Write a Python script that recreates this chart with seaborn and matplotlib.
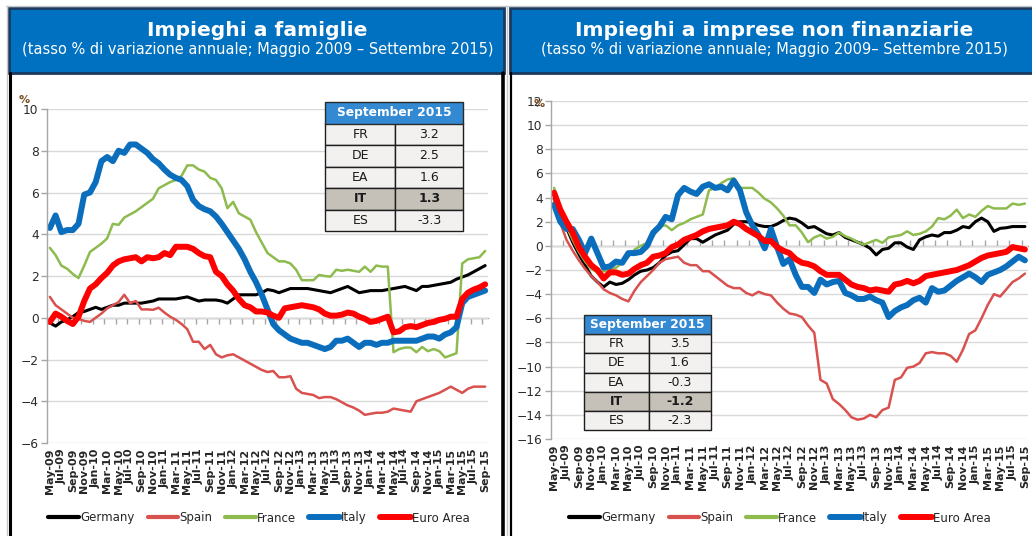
import numpy as np
import pandas as pd
import matplotlib
matplotlib.use("Agg")
import matplotlib.pyplot as plt
from matplotlib.patches import Rectangle
from matplotlib.lines import Line2D
import seaborn as sns

sns.set_style("white")
plt.rcParams['font.family'] = ['DejaVu Sans']

# ---------------- data ----------------
months = pd.date_range("2009-05-01", "2015-09-01", freq="MS").strftime("%b-%y").tolist()
series_names = ["Germany", "Spain", "France", "Italy", "Euro Area"]

# Impieghi a famiglie
fam_germany = [-0.25, -0.4, -0.2, -0.1, 0.05, 0.25, 0.3, 0.4, 0.5, 0.4,
               0.5, 0.6, 0.6, 0.7, 0.7, 0.7, 0.7, 0.75, 0.8, 0.9,
               0.9, 0.9, 0.9, 0.95, 1.0, 0.9, 0.8, 0.85, 0.85, 0.85,
               0.8, 0.7, 0.9, 1.1, 1.1, 1.1, 1.1, 1.2, 1.35, 1.3,
               1.2, 1.3, 1.4, 1.4, 1.4, 1.4, 1.35, 1.3, 1.25, 1.2,
               1.3, 1.4, 1.5, 1.35, 1.2, 1.25, 1.3, 1.3, 1.3, 1.35,
               1.4, 1.45, 1.5, 1.4, 1.3, 1.5, 1.5, 1.55, 1.6, 1.65,
               1.7, 1.85, 1.95, 2.05, 2.2, 2.35, 2.5]
fam_spain = [1.0, 0.6, 0.4, 0.2, 0.0, -0.05, -0.15, -0.2, 0.0, 0.2,
             0.45, 0.6, 0.75, 1.1, 0.7, 0.8, 0.4, 0.4, 0.38, 0.48,
             0.25, 0.05, -0.1, -0.3, -0.55, -1.15, -1.15, -1.5, -1.3, -1.75,
             -1.9, -1.8, -1.75, -1.9, -2.05, -2.2, -2.35, -2.5, -2.6, -2.55,
             -2.85, -2.85, -2.8, -3.4, -3.6, -3.65, -3.7, -3.85, -3.8, -3.8,
             -3.9, -4.05, -4.2, -4.3, -4.45, -4.65, -4.6, -4.55, -4.55, -4.5,
             -4.35, -4.4, -4.45, -4.5, -4.0, -3.9, -3.8, -3.7, -3.6, -3.45,
             -3.3, -3.45, -3.6, -3.4, -3.3, -3.3, -3.3]
fam_france = [3.35, 3.0, 2.5, 2.35, 2.1, 1.9, 2.5, 3.15, 3.35, 3.55,
              3.8, 4.5, 4.45, 4.8, 4.95, 5.1, 5.3, 5.5, 5.7, 6.2,
              6.35, 6.5, 6.6, 6.8, 7.3, 7.3, 7.1, 7.0, 6.7, 6.6,
              6.2, 5.25, 5.55, 5.0, 4.85, 4.7, 4.1, 3.6, 3.1, 2.9,
              2.7, 2.7, 2.6, 2.3, 1.8, 1.8, 1.8, 2.05, 2.0, 1.97,
              2.3, 2.25, 2.3, 2.25, 2.2, 2.45, 2.2, 2.5, 2.45, 2.45,
              -1.65, -1.5, -1.43, -1.43, -1.65, -1.4, -1.6, -1.5, -1.6, -1.9,
              -1.8, -1.7, 2.6, 2.8, 2.85, 2.9, 3.2]
fam_italy = [4.3, 4.9, 4.1, 4.2, 4.2, 4.5, 5.9, 6.0, 6.5, 7.5,
             7.7, 7.5, 8.0, 7.9, 8.3, 8.3, 8.1, 7.9, 7.6, 7.4,
             7.1, 6.85, 6.7, 6.6, 6.3, 5.65, 5.35, 5.2, 5.1, 4.85,
             4.5, 4.1, 3.7, 3.3, 2.8, 2.2, 1.7, 1.1, 0.4, -0.3,
             -0.6, -0.8, -1.0, -1.1, -1.2, -1.2, -1.3, -1.4, -1.5, -1.4,
             -1.1, -1.1, -1.0, -1.2, -1.4, -1.2, -1.2, -1.3, -1.2, -1.2,
             -1.1, -1.1, -1.1, -1.1, -1.1, -1.0, -0.9, -0.9, -1.0, -0.8,
             -0.7, -0.45, 0.7, 1.0, 1.1, 1.2, 1.3]
fam_euro = [-0.2, 0.2, 0.05, -0.15, -0.3, 0.05, 0.8, 1.4, 1.6, 1.9,
            2.15, 2.5, 2.7, 2.8, 2.85, 2.9, 2.7, 2.9, 2.85, 2.9,
            3.1, 3.0, 3.4, 3.4, 3.4, 3.3, 3.1, 2.95, 2.9, 2.2,
            2.0, 1.6, 1.3, 0.9, 0.6, 0.5, 0.3, 0.3, 0.25, 0.1,
            0.0, 0.45, 0.5, 0.55, 0.6, 0.55, 0.5, 0.4, 0.2, 0.1,
            0.1, 0.15, 0.25, 0.2, 0.05, -0.05, -0.2, -0.15, -0.05, 0.05,
            -0.7, -0.65, -0.45, -0.4, -0.45, -0.35, -0.25, -0.2, -0.1, -0.05,
            0.05, 0.05, 0.9, 1.2, 1.35, 1.45, 1.6]

# Impieghi a imprese non finanziarie
imp_germany = [3.9, 2.6, 1.5, 0.3, -0.7, -1.6, -2.5, -3.0, -3.4, -3.0,
               -3.2, -3.1, -2.8, -2.4, -2.1, -2.0, -1.8, -1.4, -0.8, -0.5,
               -0.4, 0.1, 0.6, 0.6, 0.3, 0.6, 0.9, 1.1, 1.3, 1.8,
               2.0, 2.0, 1.9, 1.7, 1.6, 1.6, 1.8, 2.1, 2.3, 2.2,
               1.9, 1.5, 1.6, 1.3, 1.0, 0.9, 1.1, 0.7, 0.5, 0.3,
               0.1, -0.2, -0.75, -0.3, -0.2, 0.25, 0.25, -0.1, -0.3, 0.5,
               0.75, 0.9, 0.8, 1.1, 1.1, 1.3, 1.6, 1.5, 2.0, 2.3,
               2.0, 1.2, 1.45, 1.5, 1.6, 1.6, 1.6]
imp_spain = [3.8, 1.9, 0.5, -0.4, -1.2, -1.9, -2.5, -3.0, -3.6, -3.9,
             -4.1, -4.4, -4.6, -3.7, -3.0, -2.5, -2.0, -1.4, -1.1, -1.0,
             -0.9, -1.4, -1.6, -1.6, -2.1, -2.1, -2.5, -2.9, -3.3, -3.5,
             -3.5, -3.9, -4.1, -3.8, -4.0, -4.1, -4.7, -5.2, -5.6, -5.7,
             -5.9, -6.6, -7.2, -11.1, -11.4, -12.7, -13.1, -13.6, -14.2, -14.4,
             -14.3, -14.0, -14.2, -13.6, -13.4, -11.1, -10.9, -10.1, -10.0, -9.7,
             -8.9, -8.8, -8.9, -8.9, -9.1, -9.6, -8.6, -7.3, -7.0, -6.0,
             -4.9, -4.0, -4.2, -3.6, -3.0, -2.7, -2.3]
imp_france = [4.8, 3.2, 1.6, 0.5, -0.5, -1.3, -1.9, -2.2, -2.1, -2.0,
              -1.8, -1.4, -0.9, -0.3, 0.0, 0.25, 0.8, 1.6, 1.7, 1.3,
              1.7, 1.9, 2.2, 2.4, 2.6, 4.6, 4.8, 5.2, 5.5, 5.6,
              4.8, 4.8, 4.8, 4.4, 3.9, 3.6, 3.1, 2.5, 1.7, 1.7,
              1.1, 0.3, 0.7, 0.9, 0.6, 0.75, 1.1, 0.8, 0.6, 0.3,
              0.1, 0.3, 0.5, 0.25, 0.7, 0.8, 0.9, 1.2, 0.9, 1.0,
              1.2, 1.6, 2.3, 2.2, 2.5, 3.0, 2.3, 2.6, 2.4, 2.9,
              3.3, 3.1, 3.1, 3.1, 3.5, 3.4, 3.5]
imp_italy = [3.4, 2.0, 1.4, 1.4, 0.5, -0.6, 0.6, -0.6, -1.8, -1.7,
             -1.3, -1.4, -0.6, -0.6, -0.5, 0.0, 1.1, 1.6, 2.4, 2.2,
             4.2, 4.8, 4.5, 4.3, 4.9, 5.1, 4.8, 4.9, 4.6, 5.4,
             4.6, 2.8, 1.7, 0.9, -0.2, 1.4, -0.1, -1.5, -1.1, -2.4,
             -3.4, -3.4, -3.9, -2.8, -3.2, -3.0, -2.9, -3.9, -4.1, -4.4,
             -4.4, -4.2, -4.5, -4.7, -5.9, -5.4, -5.1, -4.9, -4.5, -4.3,
             -4.7, -3.5, -3.8, -3.7, -3.3, -2.9, -2.6, -2.3, -2.6, -3.0,
             -2.4, -2.2, -2.0, -1.7, -1.3, -0.9, -1.2]
imp_euro = [4.4, 3.0, 2.0, 1.1, -0.1, -0.9, -1.6, -2.0, -2.7, -2.2,
            -2.2, -2.4, -2.3, -1.9, -1.6, -1.4, -0.9, -0.8, -0.6, -0.1,
            0.1, 0.5, 0.7, 0.9, 1.2, 1.4, 1.5, 1.6, 1.7, 2.0,
            1.8, 1.4, 1.1, 0.8, 0.4, 0.4, -0.1, -0.4, -0.6, -1.1,
            -1.4, -1.5, -1.7, -2.1, -2.4, -2.4, -2.4, -2.8, -3.2, -3.4,
            -3.5, -3.7, -3.6, -3.7, -3.8, -3.2, -3.1, -2.9, -3.1, -2.9,
            -2.5, -2.4, -2.3, -2.2, -2.1, -2.0, -1.8, -1.6, -1.3, -1.0,
            -0.8, -0.7, -0.6, -0.5, -0.1, -0.2, -0.3]

table_labels = ["FR", "DE", "EA", "IT", "ES"]
fam_table_values = ["3.2", "2.5", "1.6", "1.3", "-3.3"]
imp_table_values = ["3.5", "1.6", "-0.3", "-1.2", "-2.3"]
table_header = "September 2015"

fam_title = "Impieghi a famiglie"
fam_subtitle = "(tasso % di variazione annuale; Maggio 2009 \u2013 Settembre 2015)"
imp_title = "Impieghi a imprese non finanziarie"
imp_subtitle = "(tasso % di variazione annuale; Maggio 2009\u2013 Settembre 2015)"

# ---------------- styling ----------------
colors = {"Germany": "#000000", "Spain": "#D9514E", "France": "#8DBB4E",
          "Italy": "#0A6EBD", "Euro Area": "#FF0000"}
widths = {"Germany": 2.2, "Spain": 1.8, "France": 1.8, "Italy": 4.3, "Euro Area": 4.3}

W, H = 1032, 536
fig = plt.figure(figsize=(W / 100, H / 100), dpi=100)


def fx(px):
    return px / W


def fy(py):
    return 1 - py / H


def rect_px(x0, y0, x1, y1):
    return [fx(x0), fy(y1), fx(x1) - fx(x0), fy(y0) - fy(y1)]


# panel frames
fig.add_artist(Line2D([fx(6), fx(1032)], [fy(5.5), fy(5.5)], color="#C8C8C8", lw=1,
                      transform=fig.transFigure))
fig.add_artist(Line2D([fx(6.5), fx(6.5)], [fy(5.5), 0], color="#C8C8C8", lw=1,
                      transform=fig.transFigure))
fig.add_artist(Line2D([fx(9.5), fx(9.5)], [fy(73), 0], color="black", lw=2.2,
                      transform=fig.transFigure))
fig.add_artist(Line2D([fx(503), fx(503)], [fy(73), 0], color="black", lw=2.6,
                      transform=fig.transFigure))
fig.add_artist(Line2D([fx(507), fx(507)], [fy(5.5), 0], color="#C8C8C8", lw=1,
                      transform=fig.transFigure))
fig.add_artist(Line2D([fx(510.5), fx(510.5)], [fy(73), 0], color="black", lw=1.6,
                      transform=fig.transFigure))

for (x0, x1, title, sub) in [(9, 504, fam_title, fam_subtitle),
                             (510, 1033, imp_title, imp_subtitle)]:
    fig.add_artist(Rectangle((fx(x0), fy(73)), fx(x1) - fx(x0), fy(8.5) - fy(73),
                             facecolor="#0070C0", edgecolor="#1B3A5E", lw=2,
                             transform=fig.transFigure))
    cx = (x0 + x1) / 2 + (3 if x0 > 500 else 1)
    fig.text(fx(cx), fy(31), title, ha="center", va="center", color="white",
             fontsize=14.6, fontweight="bold")
    fig.text(fx(cx), fy(49.5), sub, ha="center", va="center", color="white",
             fontsize=10.5)


def draw_panel(ax_rect, data, ylim, yticks, zero_frac, pct_xy, table_rect, table_vals, legend_cx):
    ax = fig.add_axes(ax_rect)
    x = np.arange(len(months))
    for name in series_names:
        sns.lineplot(x=x, y=data[name], ax=ax, color=colors[name],
                     linewidth=widths[name], estimator=None,
                     solid_joinstyle="round", solid_capstyle="round")
    ax.set_xlim(-0.5, len(months) - 0.5)
    ax.set_ylim(*ylim)
    ax.set_yticks(yticks)
    ax.set_xlabel("")
    ax.set_ylabel("")
    ax.grid(axis="y", color="#D9D9D9", lw=1)
    ax.grid(axis="x", visible=False)
    ax.set_axisbelow(True)
    for s in ["top", "right", "bottom"]:
        ax.spines[s].set_visible(False)
    ax.spines["left"].set_color("#A6A6A6")
    ax.spines["left"].set_linewidth(1)
    ax.tick_params(axis="y", length=4, width=1, color="#A6A6A6", labelsize=8.8,
                   labelcolor="#2B2B2B", pad=2, left=True)
    ax.set_xticks(x[::2])
    ax.set_xticklabels(months[::2], rotation=90, fontsize=8, fontweight="bold",
                       color="#262626")
    ax.tick_params(axis="x", length=0, pad=4)

    sec = ax.secondary_xaxis(zero_frac)
    sec.set_xticks(np.arange(-0.5, len(months), 2))
    sec.tick_params(axis="x", direction="out", length=4, width=1, color="#A6A6A6",
                    labelbottom=False, labeltop=False)
    for s in sec.spines.values():
        s.set_color("#A6A6A6")
        s.set_linewidth(1)

    fig.text(fx(pct_xy[0]), fy(pct_xy[1]), "%", fontsize=8, color="#7A4E24",
             fontweight="bold", ha="center", va="center")

    # table inset
    tax = fig.add_axes(table_rect)
    tax.axis("off")
    n = len(table_labels)
    hh = 1 / (n + 1)
    tax.add_patch(Rectangle((0, 1 - hh), 1, hh, facecolor="#3389D2", edgecolor="#2A2A2A",
                            lw=1, transform=tax.transAxes, clip_on=False))
    tax.text(0.5, 1 - hh / 2, table_header, color="white", fontweight="bold",
             ha="center", va="center", fontsize=8.8, transform=tax.transAxes)
    cell_text = [[l, v] for l, v in zip(table_labels, table_vals)]
    tbl = tax.table(cellText=cell_text, cellLoc="center", bbox=[0, 0, 1, 1 - hh],
                    colWidths=[0.51, 0.49])
    tbl.auto_set_font_size(False)
    for (r, c), cell in tbl.get_celld().items():
        cell.set_edgecolor("#1E1E1E")
        cell.set_linewidth(1)
        is_it = table_labels[r] == "IT"
        cell.set_facecolor("#C5C1B9" if is_it else "#F2F1EF")
        cell.get_text().set_fontsize(9)
        cell.get_text().set_color("#1A1A1A")
        if is_it:
            cell.get_text().set_fontweight("bold")

    handles = [Line2D([0], [0], color=colors[nm], lw=widths[nm] if widths[nm] > 3 else 3.0)
               for nm in series_names]
    fig.legend(handles, series_names, loc="center", bbox_to_anchor=(fx(legend_cx), fy(518)),
               ncol=5, frameon=False, fontsize=8.5, handlelength=2.6,
               handletextpad=0.1, columnspacing=1.1, borderaxespad=0)
    return ax


fam_data = {"Germany": fam_germany, "Spain": fam_spain, "France": fam_france,
            "Italy": fam_italy, "Euro Area": fam_euro}
imp_data = {"Germany": imp_germany, "Spain": imp_spain, "France": imp_france,
            "Italy": imp_italy, "Euro Area": imp_euro}

draw_panel(rect_px(47, 109, 488, 443), fam_data, (-6, 10), np.arange(-6, 11, 2),
           6 / 16, (24, 100), rect_px(325, 102, 463, 231), fam_table_values, 259)
draw_panel(rect_px(551, 101, 1028, 439), imp_data, (-16, 12), np.arange(-16, 13, 2),
           16 / 28, (539, 104), rect_px(584, 315, 711, 430), imp_table_values, 780)

fig.savefig("out.png", dpi=100)
